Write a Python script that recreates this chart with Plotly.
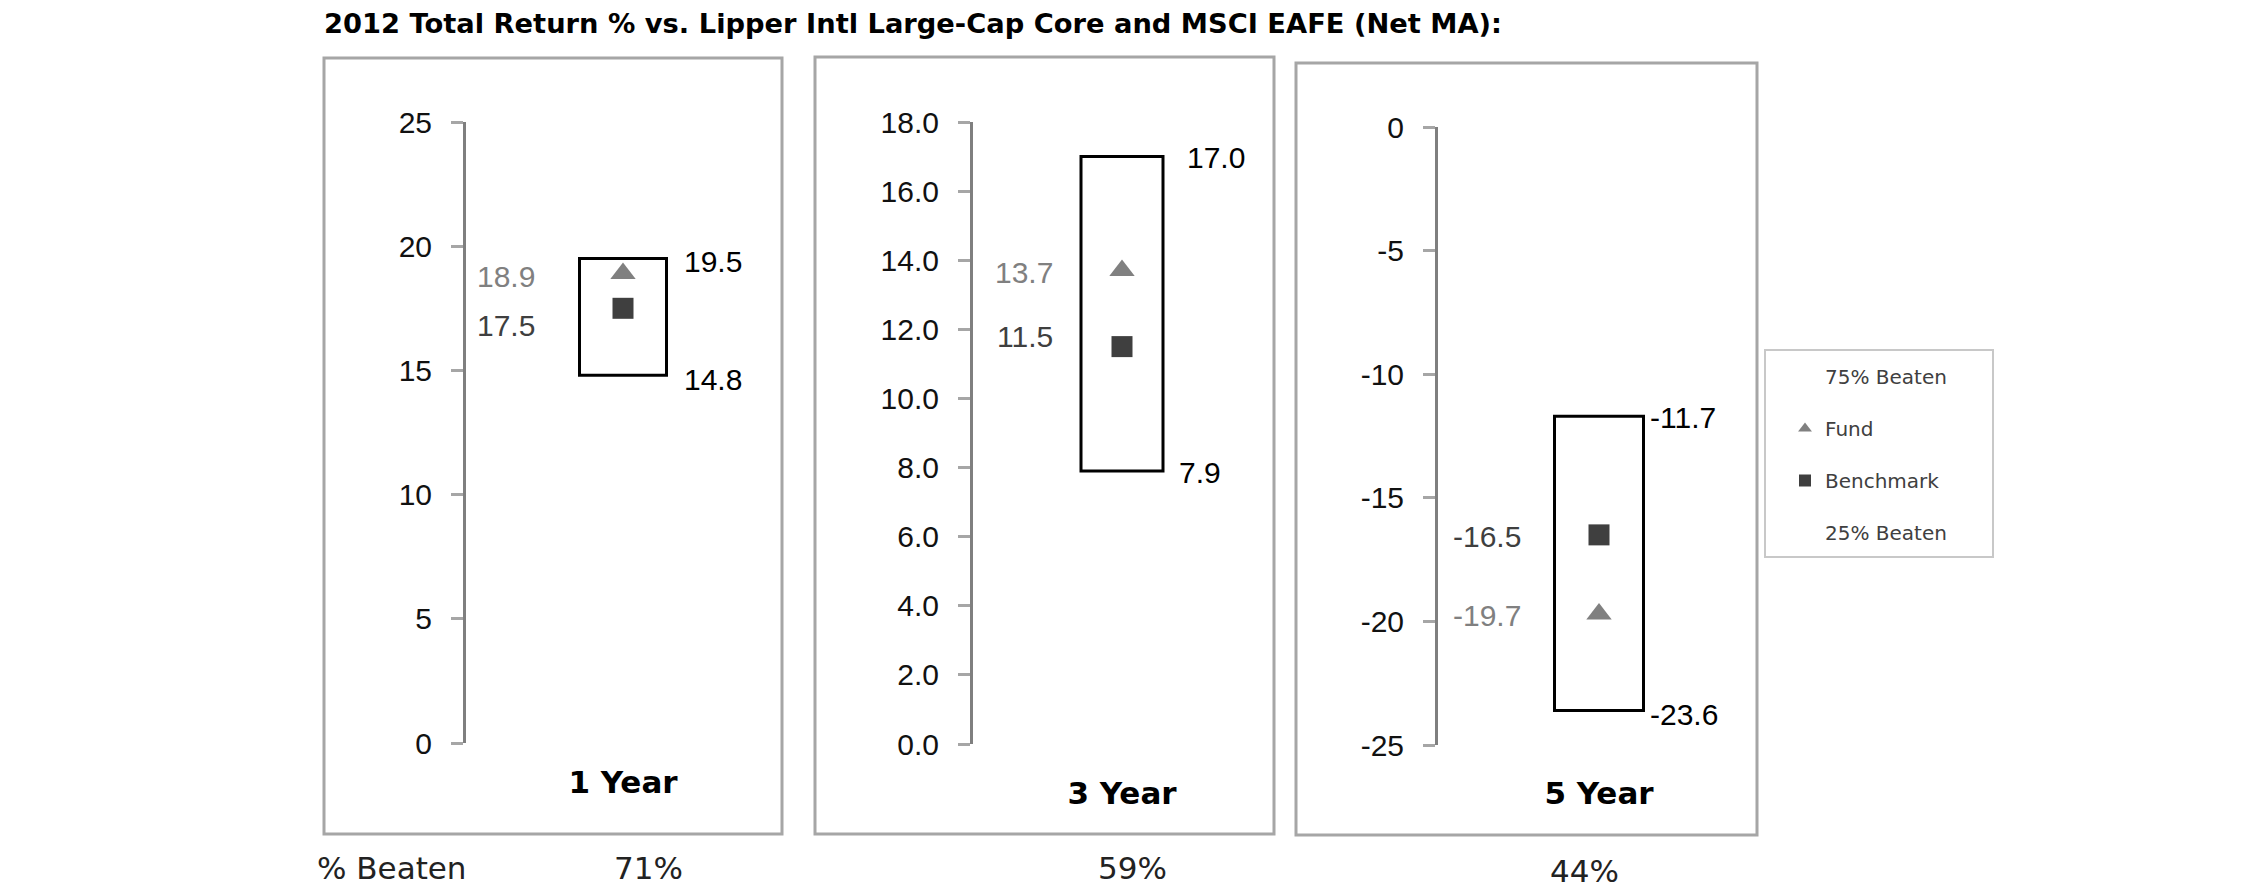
import plotly.graph_objects as go

# ---------------- data ----------------
periods = ["1 Year", "3 Year", "5 Year"]
q75_beaten = [19.5, 17.0, -11.7]     # top of box
q25_beaten = [14.8, 7.9, -23.6]      # bottom of box
fund = [18.9, 13.7, -19.7]
benchmark = [17.5, 11.5, -16.5]
pct_beaten = ["71%", "59%", "44%"]
y_ranges = [[0, 25], [0, 18], [-25, 0]]
tick_values = [
    [0, 5, 10, 15, 20, 25],
    [0, 2, 4, 6, 8, 10, 12, 14, 16, 18],
    [-25, -20, -15, -10, -5, 0],
]
tick_labels = [
    ["0", "5", "10", "15", "20", "25"],
    ["0.0", "2.0", "4.0", "6.0", "8.0", "10.0", "12.0", "14.0", "16.0", "18.0"],
    ["-25", "-20", "-15", "-10", "-5", "0"],
]
title_text = "2012 Total Return % vs. Lipper Intl Large-Cap Core and MSCI EAFE (Net MA):"

# ---------------- layout geometry (target pixels in the screenshot) ----------------
W, H = 2250, 895
OFF = 8  # page body margin


def px_x(v):
    return (v - OFF) / W


def px_y(v):
    return 1 - (v - OFF) / H


panels = [
    dict(axis=466, right=772, center=623, boxw=87, ytop=122, ybot=743,
         left_lab=537, top_lab=682, bot_lab=682, border=(324, 58, 782, 834),
         fund_dy=-3, bench_dy=-17, top_dy=-3, bot_dy=-4, tick_standoff=18, pct_x=648, pct_y=868),
    dict(axis=973, right=1264, center=1122, boxw=82, ytop=122, ybot=744,
         left_lab=1055, top_lab=1185, bot_lab=1177, border=(815, 57, 1274, 834),
         fund_dy=-2, bench_dy=10, top_dy=-1, bot_dy=-1, tick_standoff=28, pct_x=1132, pct_y=868),
    dict(axis=1438, right=1747, center=1599, boxw=89, ytop=127, ybot=745,
         left_lab=1523, top_lab=1648, bot_lab=1648, border=(1296, 63, 1757, 835),
         fund_dy=-2, bench_dy=-2, top_dy=-1, bot_dy=-4, tick_standoff=27, pct_x=1584, pct_y=871),
]

FUND_COLOR = "#808080"
BENCH_COLOR = "#3f3f3f"
ARIAL = "Liberation Sans, Arial, sans-serif"
VERDANA = "DejaVu Sans, Verdana, sans-serif"

fig = go.Figure()
annotations = []
shapes = []

for i, p in enumerate(panels):
    n = "" if i == 0 else str(i + 1)
    xa, ya = "x" + n, "y" + n
    cat = [periods[i]]
    first = i == 0

    # interquartile box
    fig.add_trace(go.Bar(
        x=cat, y=[q75_beaten[i] - q25_beaten[i]], base=[q25_beaten[i]],
        width=p["boxw"], marker=dict(color="white", line=dict(color="black", width=3)),
        showlegend=False, xaxis=xa, yaxis=ya, hoverinfo="skip"))
    fig.add_trace(go.Scatter(
        x=cat, y=[q75_beaten[i]], mode="markers", name="75% Beaten",
        legendgroup="q75", showlegend=first,
        marker=dict(color="rgba(0,0,0,0)", size=8), xaxis=xa, yaxis=ya))
    fig.add_trace(go.Scatter(
        x=cat, y=[fund[i]], mode="markers", name="Fund",
        legendgroup="fund", showlegend=first,
        marker=dict(symbol="triangle-up", color=FUND_COLOR, size=22), xaxis=xa, yaxis=ya))
    fig.add_trace(go.Scatter(
        x=cat, y=[benchmark[i]], mode="markers", name="Benchmark",
        legendgroup="bench", showlegend=first,
        marker=dict(symbol="square", color=BENCH_COLOR, size=21), xaxis=xa, yaxis=ya))
    fig.add_trace(go.Scatter(
        x=cat, y=[q25_beaten[i]], mode="markers", name="25% Beaten",
        legendgroup="q25", showlegend=first,
        marker=dict(color="rgba(0,0,0,0)", size=8), xaxis=xa, yaxis=ya))

    # axes
    fig.update_layout({
        ("xaxis" + n): dict(
            domain=[px_x(p["axis"]), px_x(p["right"])],
            range=[p["axis"] - p["center"], p["right"] - p["center"]],
            type="category", showline=False, showgrid=False, zeroline=False,
            ticks="", ticklabelstandoff=p["tick_standoff"], automargin=False,
            tickfont=dict(family=VERDANA, size=31, color="black", weight="bold"),
            anchor=ya, fixedrange=True),
        ("yaxis" + n): dict(
            domain=[px_y(p["ybot"]), px_y(p["ytop"])],
            range=y_ranges[i], tickmode="array",
            tickvals=tick_values[i], ticktext=tick_labels[i],
            showline=True, linecolor="#7f7f7f", linewidth=3,
            ticks="outside", ticklen=12, tickwidth=3, tickcolor="#a6a6a6",
            ticklabelstandoff=13, automargin=False,
            tickfont=dict(family=ARIAL, size=30, color="#111111"),
            showgrid=False, zeroline=False, anchor=xa, fixedrange=True),
    })

    # value labels
    annotations += [
        dict(x=periods[i], y=fund[i], xref=xa, yref=ya, text=f"{fund[i]:.1f}",
             showarrow=False, xanchor="right", yanchor="middle",
             xshift=p["left_lab"] - p["center"], yshift=p["fund_dy"],
             font=dict(family=ARIAL, size=30, color=FUND_COLOR)),
        dict(x=periods[i], y=benchmark[i], xref=xa, yref=ya, text=f"{benchmark[i]:.1f}",
             showarrow=False, xanchor="right", yanchor="middle",
             xshift=p["left_lab"] - p["center"], yshift=p["bench_dy"],
             font=dict(family=ARIAL, size=30, color=BENCH_COLOR)),
        dict(x=periods[i], y=q75_beaten[i], xref=xa, yref=ya, text=f"{q75_beaten[i]:.1f}",
             showarrow=False, xanchor="left", yanchor="middle",
             xshift=p["top_lab"] - p["center"], yshift=p["top_dy"],
             font=dict(family=ARIAL, size=30, color="black")),
        dict(x=periods[i], y=q25_beaten[i], xref=xa, yref=ya, text=f"{q25_beaten[i]:.1f}",
             showarrow=False, xanchor="left", yanchor="middle",
             xshift=p["bot_lab"] - p["center"], yshift=p["bot_dy"],
             font=dict(family=ARIAL, size=30, color="black")),
        dict(x=px_x(p["pct_x"]), y=px_y(p["pct_y"]), xref="paper", yref="paper",
             text=pct_beaten[i], showarrow=False, xanchor="center", yanchor="middle",
             font=dict(family=VERDANA, size=31, color="#222222")),
    ]

    # panel frame
    x0, y0, x1, y1 = p["border"]
    shapes.append(dict(type="rect", xref="paper", yref="paper",
                       x0=px_x(x0), x1=px_x(x1), y0=px_y(y1), y1=px_y(y0),
                       line=dict(color="#a6a6a6", width=3), layer="below"))

# legend frame
shapes.append(dict(type="rect", xref="paper", yref="paper",
                   x0=px_x(1765), x1=px_x(1993), y0=px_y(557), y1=px_y(350),
                   line=dict(color="#c8c8c8", width=2), layer="below"))

annotations += [
    dict(x=px_x(322), y=px_y(24), xref="paper", yref="paper", text=title_text,
         showarrow=False, xanchor="left", yanchor="middle",
         font=dict(family=VERDANA, size=27.3, color="black", weight="bold")),
    dict(x=px_x(315), y=px_y(868), xref="paper", yref="paper", text="% Beaten",
         showarrow=False, xanchor="left", yanchor="middle",
         font=dict(family=VERDANA, size=31, color="#222222")),
]

fig.update_layout(
    template="none",
    width=W, height=H, margin=dict(l=0, r=0, t=0, b=0, autoexpand=False),
    paper_bgcolor="white", plot_bgcolor="rgba(0,0,0,0)",
    barmode="overlay",
    showlegend=True,
    legend=dict(x=px_x(1785), y=px_y(357), xanchor="left", yanchor="top",
                bgcolor="rgba(0,0,0,0)", borderwidth=0,
                traceorder="grouped", tracegroupgap=23, itemsizing="constant",
                font=dict(family=VERDANA, size=20, color="#404040")),
    annotations=annotations, shapes=shapes,
)

fig.write_html("out.html")
